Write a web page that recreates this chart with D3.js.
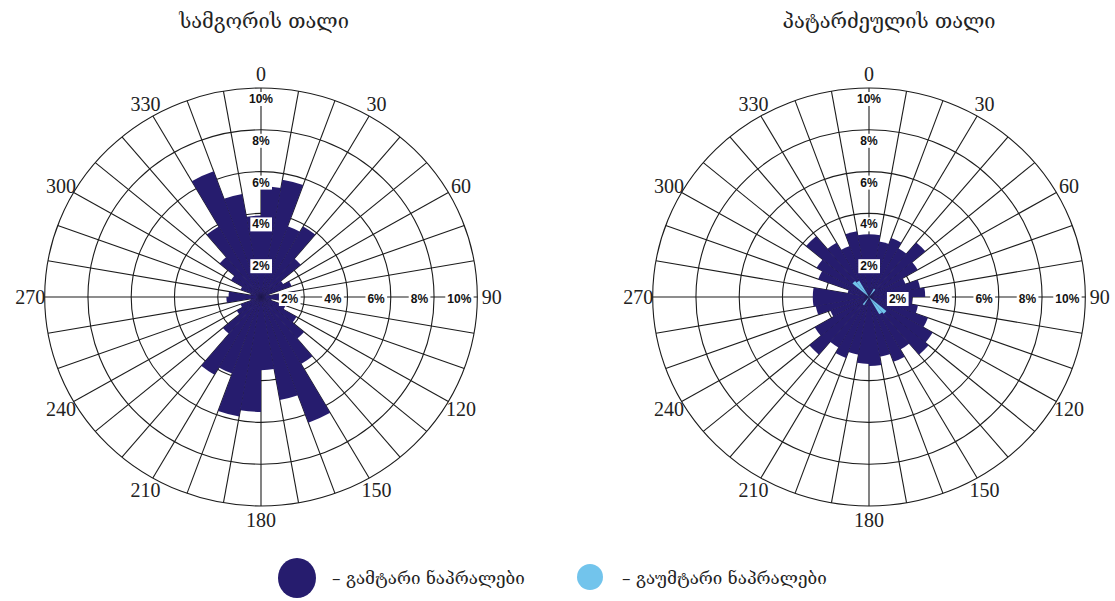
<!DOCTYPE html>
<html>
<head>
<meta charset="utf-8">
<script src="https://cdn.jsdelivr.net/npm/d3@7"></script>
<style>
  body { margin: 0; background: #fff; }
  svg { display: block; }
</style>
</head>
<body>
<svg id="chart" width="1115" height="601"></svg>
<script>
// Fracture strike bins, degrees clockwise from north, 10° wide
const binStarts = [0, 10, 20, 30, 40, 50, 60, 70, 80, 90, 100, 110,
                   120, 130, 140, 150, 160, 170, 180, 190, 200, 210, 220, 230,
                   240, 250, 260, 270, 280, 290, 300, 310, 320, 330, 340, 350];
const compassTicks = [0, 30, 60, 90, 120, 150, 180, 210, 240, 270, 300, 330];
const percentTicks = [2, 4, 6, 8, 10];

// Samgori vault — conductive fractures, % per bin
const samgoriConductive = [5.3, 5.7, 3.6, 3.9, 2.4, 1.2, 1.5, 0.4, 1.6, 1.3, 0.5, 1.2,
                           1.9, 2.6, 3.7, 6.4, 5.0, 3.5, 5.5, 5.8, 3.9, 4.3, 2.3, 1.3,
                           1.0, 0.5, 1.6, 1.5, 0.5, 1.0, 1.6, 2.5, 3.9, 6.4, 5.0, 3.9];

// Patardzeuli vault — conductive fractures, % per bin
const patardzeuliConductive = [3.0, 2.7, 3.0, 2.7, 3.4, 2.6, 1.8, 2.4, 2.6, 2.0, 2.3, 2.9,
                               3.4, 3.6, 2.9, 3.3, 2.9, 3.3, 3.2, 2.8, 3.1, 2.8, 3.6, 2.9,
                               1.9, 2.5, 2.6, 2.6, 1.0, 2.5, 2.8, 3.8, 3.0, 2.6, 3.2, 3.0];

// Patardzeuli vault — sealed (non-conductive) fractures, % per bin
const patardzeuliSealed = [0, 0, 0, 0.45, 0, 0, 0, 0, 0, 0, 0, 0,
                           0, 1.05, 0.95, 0, 0, 0, 0, 0, 0, 0.45, 0, 0,
                           0, 0, 0, 0, 0, 0, 0, 1.0, 0.9, 0, 0, 0];

const titles = ["სამგორის  თალი", "პატარძეულის  თალი"];
const legendLabels = ["–  გამტარი  ნაპრალები", "–  გაუმტარი  ნაპრალები"];

const COLOR_CONDUCTIVE = "#261c6e";
const COLOR_SEALED = "#72c4ec";
const GRID = "#1c1c1c";
const GEORGIAN_FONT = "'DejaVu Serif', 'DejaVu Sans', serif";

const svg = d3.select("#chart");

const ry = 209;             // radius of the 10% ring (vertical)
const sx = 1.035;           // horizontal stretch of the diagrams
const r = d3.scaleLinear().domain([0, 10]).range([0, ry]);
const ang = d3.scaleLinear().domain([0, 360]).range([0, 2 * Math.PI]);

const arc = d3.arc()
  .innerRadius(0)
  .outerRadius(d => r(d.value))
  .startAngle(d => ang(d.start))
  .endAngle(d => ang(d.start + 10));

function rose(cx, cy, title, titleX, seriesList) {
  const root = svg.append("g");

  // title
  root.append("text")
    .attr("x", titleX).attr("y", 28)
    .attr("text-anchor", "middle")
    .attr("font-family", GEORGIAN_FONT)
    .attr("font-size", 20)
    .attr("fill", "#222")
    .text(title);

  const g = root.append("g").attr("transform", `translate(${cx},${cy}) scale(${sx},1)`);

  // rings
  g.selectAll("circle.ring").data(percentTicks).join("circle")
    .attr("class", "ring")
    .attr("r", d => r(d))
    .attr("fill", "none")
    .attr("stroke", GRID)
    .attr("stroke-width", 1.1)
    .attr("vector-effect", "non-scaling-stroke");

  // spokes every 10°
  g.selectAll("line.spoke").data(binStarts).join("line")
    .attr("class", "spoke")
    .attr("x1", 0).attr("y1", 0)
    .attr("x2", d => r(10) * Math.sin(ang(d)))
    .attr("y2", d => -r(10) * Math.cos(ang(d)))
    .attr("stroke", GRID)
    .attr("stroke-width", 1.1)
    .attr("vector-effect", "non-scaling-stroke");

  // petals
  seriesList.forEach(s => {
    g.append("g").selectAll("path")
      .data(binStarts.map((b, i) => ({ start: b, value: s.values[i] })).filter(d => d.value > 0))
      .join("path")
      .attr("d", arc)
      .attr("fill", s.color);
  });

  // compass labels
  root.selectAll("text.compass").data(compassTicks).join("text")
    .attr("class", "compass")
    .attr("x", d => cx + sx * (r(10) + 14) * Math.sin(ang(d)))
    .attr("y", d => cy - (r(10) + 14) * Math.cos(ang(d)))
    .attr("text-anchor", "middle")
    .attr("dominant-baseline", "central")
    .attr("font-family", "'Liberation Serif', 'Times New Roman', serif")
    .attr("font-size", 20)
    .attr("fill", "#222")
    .text(d => d);

  // percent labels along north and east axes, on white tags
  const tags = [];
  percentTicks.forEach(t => {
    tags.push({ t, x: cx, y: cy - r(t) + 11, anchor: "middle" });
    tags.push({ t, x: cx + sx * r(t) - 6, y: cy + 2, anchor: "end" });
  });
  tags.forEach(d => {
    const lg = root.append("g");
    const rect = lg.append("rect").attr("fill", "#fff");
    const txt = lg.append("text")
      .attr("x", d.x).attr("y", d.y)
      .attr("text-anchor", d.anchor)
      .attr("dominant-baseline", "central")
      .attr("font-family", "'Liberation Sans', Arial, sans-serif")
      .attr("font-weight", "bold")
      .attr("font-size", 12)
      .attr("fill", "#111")
      .text(d.t + "%");
    const bb = txt.node().getBBox();
    rect.attr("x", bb.x - 2).attr("y", bb.y)
      .attr("width", bb.width + 4).attr("height", bb.height);
  });
}

rose(261, 297, titles[0], 264, [
  { values: samgoriConductive, color: COLOR_CONDUCTIVE }
]);
rose(869, 297, titles[1], 889, [
  { values: patardzeuliConductive, color: COLOR_CONDUCTIVE },
  { values: patardzeuliSealed, color: COLOR_SEALED }
]);

// legend
const legend = svg.append("g");
legend.append("ellipse")
  .attr("cx", 297).attr("cy", 578).attr("rx", 19).attr("ry", 20)
  .attr("fill", COLOR_CONDUCTIVE);
legend.append("text")
  .attr("x", 332).attr("y", 584)
  .attr("font-family", GEORGIAN_FONT)
  .attr("font-size", 17).attr("fill", "#222")
  .text(legendLabels[0]);
legend.append("circle")
  .attr("cx", 590).attr("cy", 577).attr("r", 13)
  .attr("fill", COLOR_SEALED);
legend.append("text")
  .attr("x", 622).attr("y", 584)
  .attr("font-family", GEORGIAN_FONT)
  .attr("font-size", 17).attr("fill", "#222")
  .text(legendLabels[1]);
</script>
</body>
</html>
